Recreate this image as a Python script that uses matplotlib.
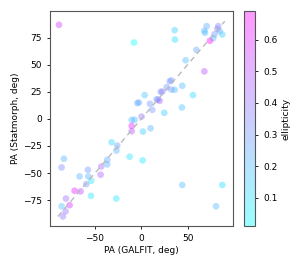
import numpy as np
import matplotlib
matplotlib.use("Agg")
import matplotlib.pyplot as plt
from matplotlib.colors import ListedColormap, Normalize
from matplotlib.cm import ScalarMappable

# position angles
pa_galfit = [-88.8, -7.9, 36.0, 36.3, 70.5, 68.0, 68.7, 83.0, 82.0, 84.5,
             87.4, 79.0, 77.7, 74.0, 59.4, 47.8, 68.0,
             32.4, 30.6, 44.2, 27.4, 32.4, 36.0, 22.7, 20.9, 3.6, 55.7,
             18.0, 16.5, 19.8, -2.6, -4.3, 9.3, 11.8, 43.8, 24.8, 0.3,
             -7.2, -10.4, -10.4, -10.4, 1.8, 10.0,
             -32.0, -25.9, -26.9, -12.6, -83.5, -86.0, -57.6, -43.2, -36.7, -36.7,
             -43.9, -66.6, -57.2, -54.0, -59.4, -72.0, -65.5, -54.3, -27.0,
             -81.3, -77.3, -86.0, -81.7, -84.6, 1.4,
             44.2, 80.6, 87.4]
pa_statmorph = [86.7, 70.4, 81.8, 73.1, 85.5, 81.2, 79.3, 85.5, 83.0, 81.0,
                77.8, 78.0, 74.4, 72.0, 63.6, 54.0, 43.8,
                35.5, 34.6, 30.5, 29.2, 27.0, 26.7, 25.0, 25.0, 21.9, 21.9,
                17.9, 17.9, 16.6, 15.1, 14.5, 13.9, 8.3, 10.5, 5.5, 2.1,
                -0.9, -0.9, -6.5, -11.4, -11.7, -8.7,
                -21.6, -24.7, -29.3, -34.9, -36.8, -44.8, -47.0, -43.9, -42.0, -37.7,
                -51.5, -53.1, -53.1, -57.1, -60.2, -66.3, -66.9, -71.0, -73.5,
                -73.5, -79.6, -80.6, -85.3, -90.0, -38.3,
                -61.0, -80.6, -61.0]
ellipticity = [0.55, 0.011, 0.15, 0.10, 0.25, 0.20, 0.20, 0.35, 0.35, 0.25,
               0.15, 0.30, 0.20, 0.69, 0.25, 0.20, 0.50,
               0.30, 0.30, 0.20, 0.30, 0.30, 0.20, 0.35, 0.35, 0.18, 0.10,
               0.30, 0.30, 0.45, 0.25, 0.25, 0.30, 0.30, 0.18, 0.15, 0.40,
               0.20, 0.20, 0.62, 0.50, 0.15, 0.22,
               0.12, 0.28, 0.22, 0.08, 0.22, 0.35, 0.30, 0.45, 0.22, 0.25,
               0.45, 0.22, 0.22, 0.08, 0.30, 0.62, 0.52, 0.08, 0.08,
               0.40, 0.58, 0.18, 0.40, 0.40, 0.06,
               0.20, 0.20, 0.10]

fig = plt.figure(figsize=(2.99, 2.66), dpi=100)
ax = fig.add_axes([0.1672, 0.1504, 0.612, 0.808])
cax = fig.add_axes([0.816, 0.1504, 0.0368, 0.808])

norm = Normalize(min(ellipticity), max(ellipticity))
sc = ax.scatter(pa_galfit, pa_statmorph, c=ellipticity, cmap='cool', norm=norm,
                alpha=0.4, s=23, edgecolors='none')
ax.plot([-90, 90], [-90, 90], ls=(0, (4, 3)), color='#bbbbbb', lw=1)

ax.set_xlim(-98.5, 98.9)
ax.set_ylim(-98.8, 99.4)
ax.set_xticks([-50, 0, 50])
ax.set_yticks([-75, -50, -25, 0, 25, 50, 75])
ax.tick_params(labelsize=6.5, length=2.5, width=0.6)
ax.set_xlabel("PA (GALFIT, deg)", fontsize=6.5, labelpad=2)
ax.set_ylabel("PA (Statmorph, deg)", fontsize=6.5, labelpad=2)
for sp in ax.spines.values():
    sp.set_linewidth(0.8)
    sp.set_color('#555555')

# colorbar drawn with the faded colours (alpha 0.4 over white)
base = plt.get_cmap('cool')(np.linspace(0, 1, 256))
faded = base.copy()
faded[:, :3] = 0.4 * base[:, :3] + 0.6
cb = fig.colorbar(ScalarMappable(norm=norm, cmap=ListedColormap(faded)), cax=cax)
cb.set_ticks([0.1, 0.2, 0.3, 0.4, 0.5, 0.6])
cb.ax.tick_params(labelsize=6.5, length=2.5, width=0.6)
cb.set_label("ellipticity", fontsize=6.5, labelpad=3)
cb.outline.set_linewidth(0.8)
cb.outline.set_edgecolor('#555555')

fig.savefig("out.png", dpi=100)
